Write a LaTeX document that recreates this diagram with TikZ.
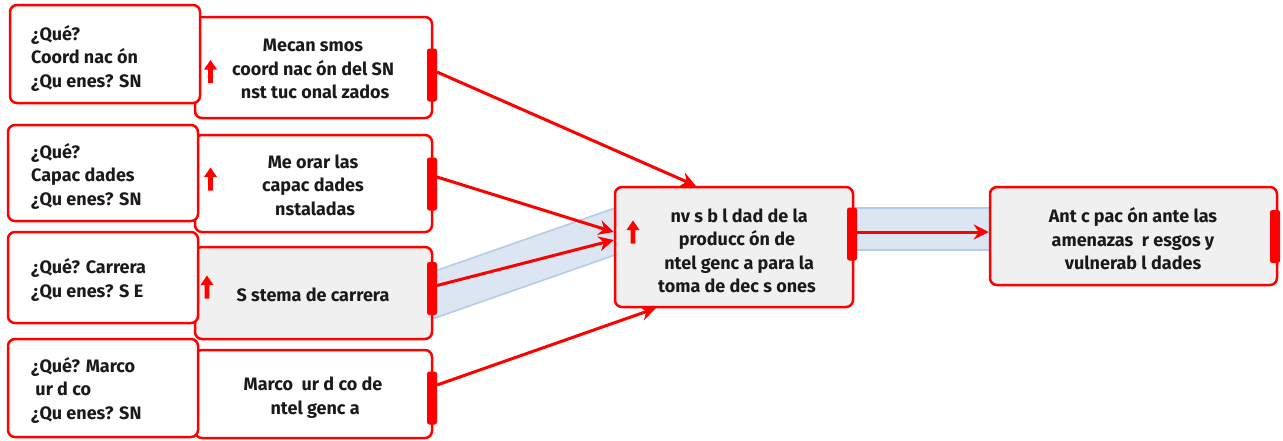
\documentclass[tikz,border=0pt]{standalone}
\usepackage{fontspec}
\setmainfont{Fira Sans}
\usetikzlibrary{arrows.meta,calc}
\definecolor{rd}{HTML}{FF0000}
\definecolor{gf}{HTML}{F0F0F0}
\definecolor{bandfill}{HTML}{DCE6F2}
\definecolor{bandline}{HTML}{B4CCE6}
\definecolor{txt}{HTML}{1A1A1A}
\begin{document}
\begin{tikzpicture}[x=1pt,y=-1pt,
  box/.style={draw=rd, line width=2.5pt, rounded corners=7pt, fill=white, inner sep=0pt},
  gbox/.style={box, fill=gf},
  bar/.style={draw=rd, fill=rd, line width=1pt, rounded corners=2pt, minimum width=9pt, minimum height=52pt, inner sep=0pt},
  lbl/.style={font=\bfseries\fontsize{18}{23.5}\selectfont, text=txt, inner sep=0pt},
  con/.style={draw=rd, line width=3pt, -{Stealth[length=15pt,width=15pt]}},
  uparr/.pic={\fill[rd] (-2.4,11.5) -- (-2.4,-2) -- (-6.5,-2) -- (0,-11.5) -- (6.5,-2) -- (2.4,-2) -- (2.4,11.5) -- cycle;}
]
\useasboundingbox (0,0) rectangle (1283,440);
% bands
\fill[bandfill] (425,274.5) -- (617,207.3) -- (617,254.3) -- (425,321.5) -- cycle;
\draw[bandline, line width=1.6pt] (425,274.5) -- (617,207.3) (617,254.3) -- (425,321.5);
\fill[bandfill] (840,208) rectangle (992,250);
\draw[bandline, line width=1.6pt] (840,208) -- (992,208) (840,250) -- (992,250);
% middle boxes
\node[box, minimum width=237pt, minimum height=101pt] (M1) at (313.5,67.5) {};
\node[box, minimum width=237pt, minimum height=97pt] (M2) at (313.5,183.5) {};
\node[gbox, minimum width=237pt, minimum height=92pt] (M3) at (313.5,293) {};
\node[box, minimum width=237pt, minimum height=88pt] (M4) at (313.5,394) {};
% left boxes
\node[box, minimum width=190pt, minimum height=98pt] (L1) at (105,54) {};
\node[box, minimum width=190pt, minimum height=96pt] (L2) at (103,173) {};
\node[box, minimum width=190pt, minimum height=91pt] (L3) at (103,277.5) {};
\node[box, minimum width=190pt, minimum height=98pt] (L4) at (103,388) {};
% bars
\node[bar] (B1) at (432,75) {};
\node[bar] (B2) at (432,184) {};
\node[bar] (B3) at (432,288.5) {};
\node[bar] (B4) at (432,398) {};
% centre and right
\node[gbox, minimum width=238pt, minimum height=120pt] (C) at (734,247) {};
\node[gbox, minimum width=287pt, minimum height=98pt] (R) at (1133.5,236) {};
\node[bar] (BC) at (852,234) {};
\node[bar] (BR) at (1275,236.5) {};
% texts
\node[lbl, align=left, anchor=west] (tL1) at (31,58) {¿Qué?\\Coord nac ón\\¿Qu enes? SN};
\node[lbl, align=left, anchor=west] (tL2) at (31,176) {¿Qué?\\Capac dades\\¿Qu enes? SN};
\node[lbl, align=left, anchor=west] (tL3) at (31,280) {¿Qué? Carrera\\¿Qu enes? S\ E};
\node[lbl, align=left, anchor=west] (tL4) at (31,390) {¿Qué? Marco\\\ ur d co\\¿Qu enes? SN};
\node[lbl, align=center] (tM1) at (313,69) {Mecan smos\\coord nac ón del SN\\\ nst tuc onal zados};
\node[lbl, align=center] (tM2) at (313,185) {Me orar las\\capac dades\\\ nstaladas};
\node[lbl, align=center] (tM3) at (313,295) {S stema de carrera};
\node[lbl, align=center] (tM4) at (313,397.5) {Marco\ \ ur d co de\\\ ntel genc a};
\node[lbl, align=center] (tC) at (737,251) {\ nv s b l dad de la\\producc ón de\\\ ntel genc a para la\\toma de dec s ones};
\node[lbl, align=center] (tR) at (1133,239) {Ant c pac ón ante las\\amenazas\ \ r esgos y\\vulnerab l dades};
% up arrows
\pic at (210.5,71.5) {uparr};
\pic at (210.5,179) {uparr};
\pic at (207,287) {uparr};
\pic at (633,232) {uparr};
% connectors
\draw[con] ([yshift=3pt]B1.east) -- ([xshift=82pt]C.north west);
\draw[con] ([yshift=7pt]B2.east) -- ([yshift=15pt]C.west);
\draw[con] ([yshift=3pt]B3.east) -- ([yshift=7pt]C.west);
\draw[con] ([yshift=13pt]B4.east) -- ([xshift=42pt]C.south west);
\draw[con] ([yshift=2pt]BC.east) -- ([yshift=2pt]BC.east -| R.west);
\end{tikzpicture}
\end{document}
